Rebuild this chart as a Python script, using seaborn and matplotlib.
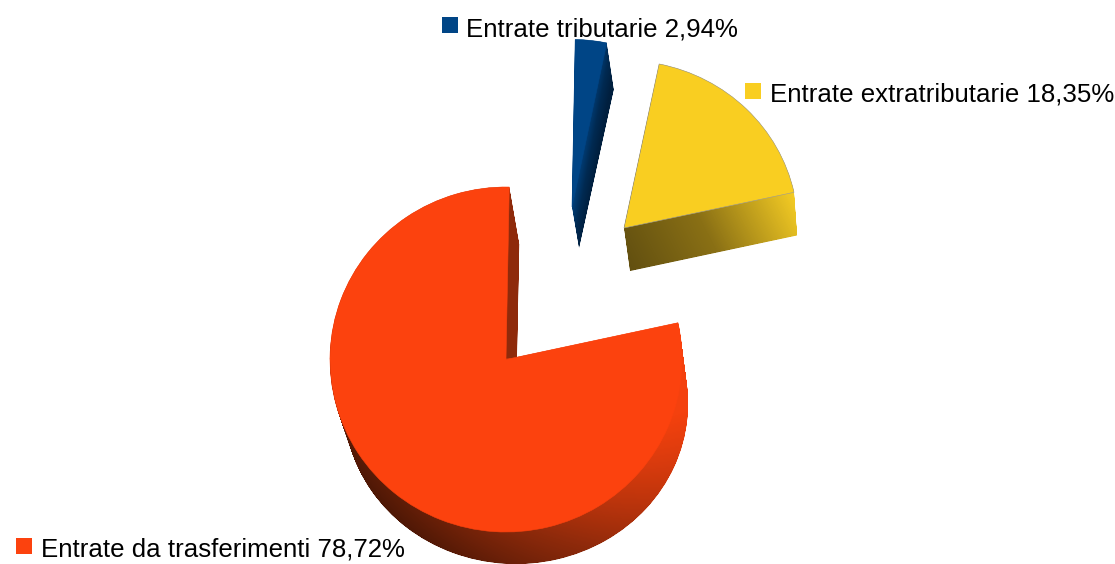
import numpy as np
import matplotlib
matplotlib.use("Agg")
import matplotlib.pyplot as plt
from matplotlib.colors import LinearSegmentedColormap
from matplotlib.path import Path
from matplotlib.transforms import Affine2D
import seaborn as sns

categories = ["Entrate extratributarie", "Entrate tributarie", "Entrate da trasferimenti"]
percent_labels = ["18,35%", "2,94%", "78,72%"]
values = [18.35, 2.94, 78.72]
face_colors = ["#F9CE21", "#004586", "#FC420E"]

sns.set_theme(style="white")
plt.rcParams["font.family"] = ["Liberation Sans", "DejaVu Sans"]

# Layout of the drawing, in figure pixels
START_ANGLE = 12.3
LAYERS = 70
# top centre, top radii, bottom centre, bottom radii
GEOMETRY = [
    ((624, 228), (174, 167.5), (630, 271), (171, 167)),
    ((572, 207), (172, 167.5), (579, 248), (172, 162)),
    ((506, 359.5), (176, 172.5), (516, 404), (172, 160)),
]
# wall shading: dark end, bright end, colour stops
SHADING = [
    ((625, 275), (790, 190), ["#5F4D10", "#8A7015", "#F2CA24"]),
    ((572, 207), (588, 210), ["#003E78", "#002A52", "#001F3E"]),
    ((360, 590), (670, 410), ["#3A1204", "#8E2A0B", "#F4410E"]),
]
FACE_EDGES = ["#9a9a9a", "#004586", "#FC420E"]
LEGEND = [((753, 91), (770, 92)), ((450, 25), (466, 27)), ((24, 546), (41, 547))]
RIM_DARKENING = 0.6

fig = plt.figure(figsize=(11.15, 5.64), dpi=100, facecolor="white")
ax = fig.add_axes([0, 0, 1, 1])

wedges, _ = ax.pie(values, startangle=START_ANGLE, colors=face_colors, radius=1, center=(0, 0))


def ellipse(center, radii):
    return Affine2D().scale(radii[0], -radii[1]).translate(*center)


for i, wedge in enumerate(wedges):
    c0, r0, c1, r1 = GEOMETRY[i]
    p0, p1, stops = SHADING[i]
    unit = wedge.get_path()
    # side wall: the wedge swept from its top face to its bottom face
    sweep = []
    for t in np.linspace(0, 1, LAYERS):
        c = np.array(c0) * (1 - t) + np.array(c1) * t
        r = np.array(r0) * (1 - t) + np.array(r1) * t
        sweep.append(unit.transformed(ellipse(c, r)))
    wall = Path.make_compound_path(*sweep)
    x0, y0 = np.floor(wall.vertices.min(axis=0)) - 2
    x1, y1 = np.ceil(wall.vertices.max(axis=0)) + 2
    xx, yy = np.meshgrid(np.arange(x0, x1) + 0.5, np.arange(y0, y1) + 0.5)
    axis = np.array(p1, float) - np.array(p0, float)
    shade = ((xx - p0[0]) * axis[0] + (yy - p0[1]) * axis[1]) / (axis @ axis)
    if i == 2:
        # the wall of the big slice darkens towards its lower rim
        rho = np.hypot((xx - c0[0]) / r0[0], (yy - c0[1]) / r0[1])
        shade = shade - RIM_DARKENING * np.clip(rho - 1, 0, None)
    shade = np.clip(shade, 0, 1)
    if i == 2:  # the inner cut of the big slice faces away from the light
        shade[(yy < 358) & (xx < 530)] = 0.5
    cmap = LinearSegmentedColormap.from_list(f"wall{i}", stops)
    im = ax.imshow(shade, cmap=cmap, vmin=0, vmax=1, extent=(x0, x1, y1, y0),
                   interpolation="bilinear", zorder=2 + i * 2)
    im.set_clip_path(wall, ax.transData)
    # top face
    wedge.set_transform(ellipse(c0, r0) + ax.transData)
    wedge.set_edgecolor(FACE_EDGES[i])
    wedge.set_linewidth(0.4)
    wedge.set_zorder(3 + i * 2)

for i in range(len(values)):
    (mx, my), (tx, ty) = LEGEND[i]
    ax.scatter([mx], [my], marker="s", s=(16 * 0.72) ** 2, color=face_colors[i],
               linewidths=0, zorder=10)
    ax.text(tx, ty, f"{categories[i]} {percent_labels[i]}", fontsize=18.65, color="black",
            va="center_baseline", ha="left", zorder=11)

ax.set_aspect("auto")
ax.set_xlim(0, 1115)
ax.set_ylim(564, 0)
ax.axis("off")
fig.savefig("out.png", dpi=100, facecolor="white")
